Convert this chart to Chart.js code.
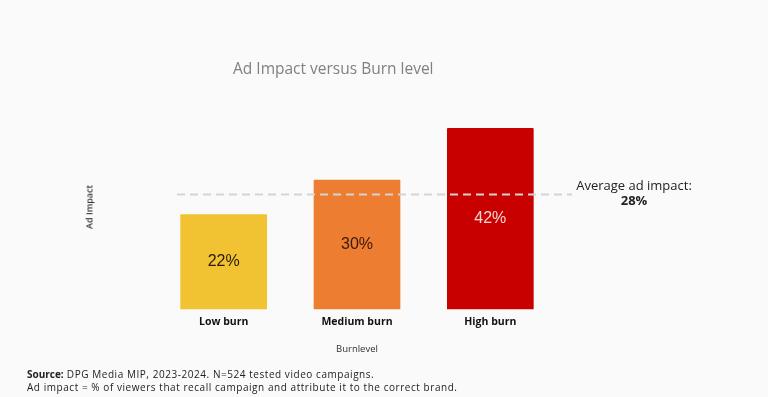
<!DOCTYPE html>
<html>
<head>
<meta charset="utf-8">
<script src="https://cdn.jsdelivr.net/npm/chart.js@4"></script>
<style>
  html, body { margin: 0; padding: 0; background: #fafafa; }
  #wrap { position: relative; width: 768px; height: 397px; overflow: hidden; font-family: "Open Sans", sans-serif; }
  #chart { position: absolute; left: 0; top: 0; }
  .title { position: absolute; left: 233px; top: 57px; font-size: 15.5px; color: #808080; white-space: nowrap; }
  .ytitle { position: absolute; left: 89px; top: 207px; transform: translate(-50%, -50%) rotate(-90deg); font-size: 9px; font-weight: 600; color: #333; white-space: nowrap; }
  .xtitle { position: absolute; left: 357px; top: 348px; transform: translate(-50%, -50%); font-size: 9.5px; color: #333; white-space: nowrap; }
  .avg { position: absolute; left: 634px; top: 178px; transform: translateX(-50%); text-align: center; font-size: 13px; color: #222; line-height: 15px; white-space: nowrap; }
  .avg b { font-size: 13px; }
  .note { position: absolute; left: 27px; top: 368px; font-size: 10px; line-height: 13px; letter-spacing: 0.55px; color: #222; white-space: nowrap; }
  .note b { letter-spacing: 0; }
</style>
</head>
<body>
<div id="wrap">
  <canvas id="chart" width="768" height="397"></canvas>
  <div class="title">Ad Impact versus Burn level</div>
  <div class="ytitle">Ad Impact</div>
  <div class="xtitle">Burnlevel</div>
  <div class="avg">Average ad impact:<br><b>28%</b></div>
  <div class="note"><b>Source:</b> DPG Media MIP, 2023-2024. N=524 tested video campaigns.<br>Ad impact = % of viewers that recall campaign and attribute it to the correct brand.</div>
</div>
<script>
// data
const categories = ["Low burn", "Medium burn", "High burn"];
const impact = [22, 30, 42];
const valueLabels = ["22%", "30%", "42%"];
const barColors = ["#f1c232", "#ed7d31", "#c90000"];
const labelColors = ["#2a1a08", "#3a1a08", "#f6d6d6"];
const averageLine = 26.6;

// Draw the % labels inside bars and the dashed average line
const extras = {
  id: "extras",
  afterDatasetsDraw(chart) {
    const ctx = chart.ctx;
    const y = chart.scales.y.getPixelForValue(averageLine);
    ctx.save();
    ctx.strokeStyle = "#d4d4d4";
    ctx.lineWidth = 2;
    ctx.setLineDash([8, 5]);
    ctx.beginPath();
    ctx.moveTo(177, y);
    ctx.lineTo(572, y);
    ctx.stroke();
    ctx.restore();

    const meta = chart.getDatasetMeta(0);
    ctx.save();
    ctx.font = "16px 'Liberation Sans', Arial, sans-serif";
    ctx.textAlign = "center";
    ctx.textBaseline = "middle";
    meta.data.forEach((bar, i) => {
      const mid = (bar.y + bar.base) / 2;
      ctx.fillStyle = labelColors[i];
      ctx.fillText(valueLabels[i], bar.x, mid);
    });
    ctx.restore();
  }
};

new Chart(document.getElementById("chart"), {
  type: "bar",
  data: {
    labels: categories,
    datasets: [{
      data: impact,
      backgroundColor: barColors,
      borderRadius: 1,
      barPercentage: 0.65,
      categoryPercentage: 1
    }]
  },
  options: {
    responsive: false,
    animation: false,
    layout: { padding: { left: 157, right: 211, top: 115, bottom: 63 } },
    plugins: { legend: { display: false }, tooltip: { enabled: false } },
    scales: {
      y: { display: false, min: 0, max: 45 },
      x: {
        grid: { display: false, drawTicks: false },
        border: { display: false },
        ticks: {
          padding: 6,
          color: "#111",
          font: { family: "'Open Sans', sans-serif", size: 10.5, weight: "bold" }
        }
      }
    }
  },
  plugins: [extras]
});
</script>
</body>
</html>
